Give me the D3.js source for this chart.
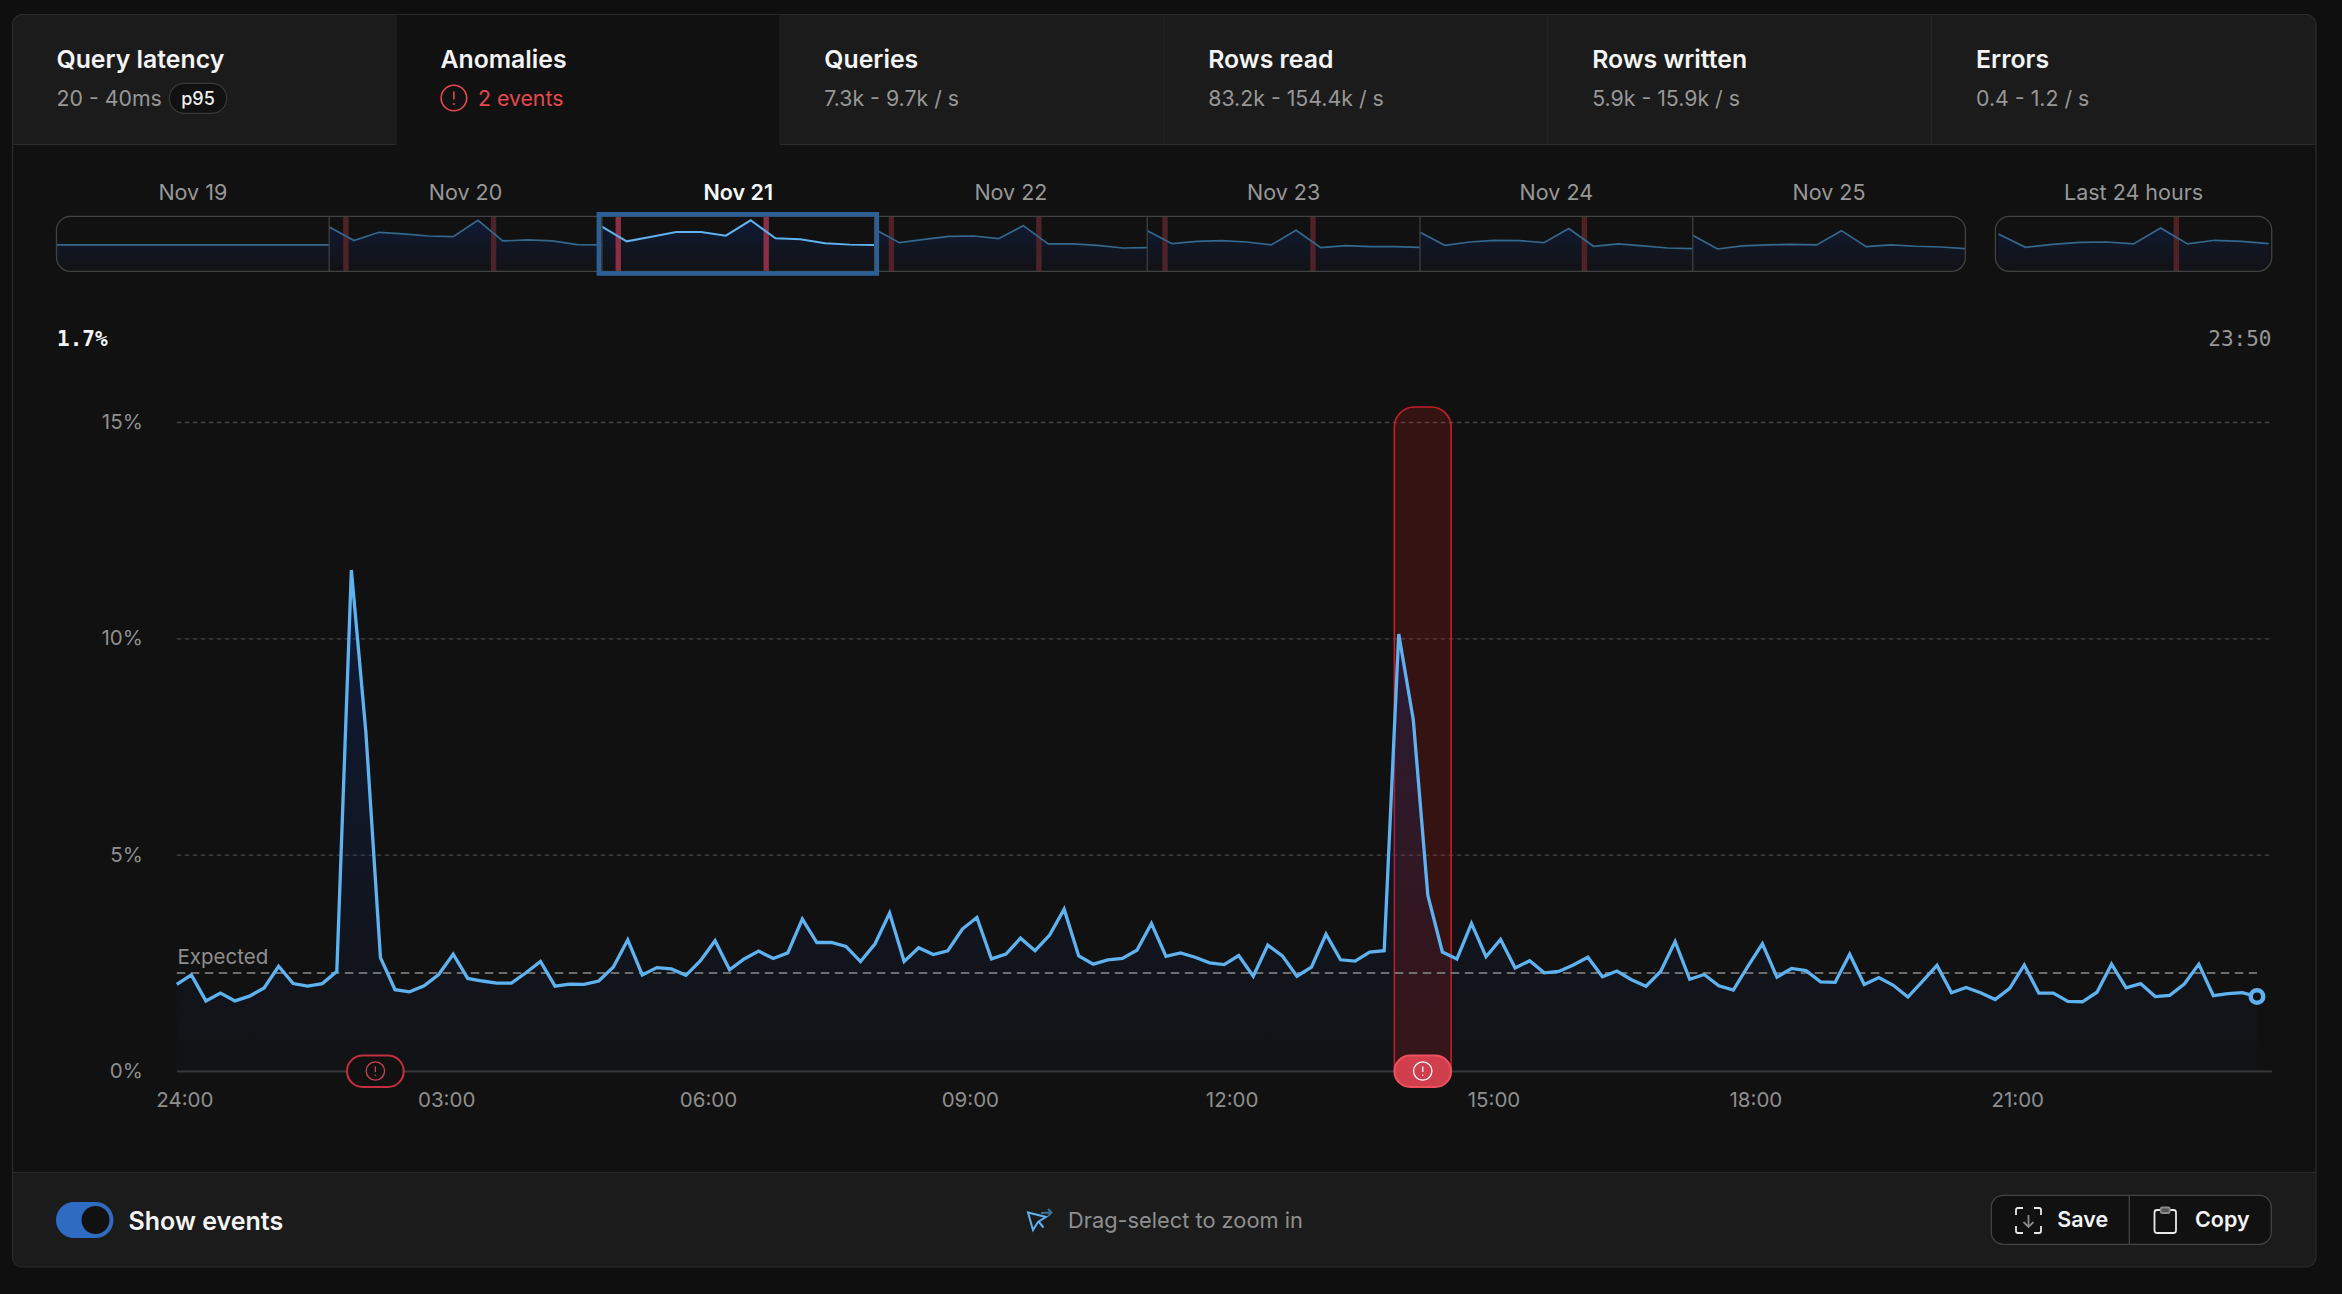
<!DOCTYPE html>
<html lang="en">
<head>
<meta charset="UTF-8">
<title>Anomalies</title>
<script src="https://cdn.jsdelivr.net/npm/d3@7"></script>
<style>
    html, body { margin: 0; padding: 0; background: #0f0f0f; }
    svg { display: block; font-family: Inter, "Noto Sans", sans-serif; }
    .mono { font-family: "DejaVu Sans Mono", monospace; }
</style>
</head>
<body>
<svg id="chart" width="2342" height="1294"></svg>
<script>
// tabs across the top
const tabTitles = ['Query latency', 'Anomalies', 'Queries', 'Rows read', 'Rows written', 'Errors'];
const tabRanges = ['20 - 40ms', '2 events', '7.3k - 9.7k / s', '83.2k - 154.4k / s', '5.9k - 15.9k / s', '0.4 - 1.2 / s'];

// overview strip, height of the line as a share of the strip
const dayLabels = ['Nov 19', 'Nov 20', 'Nov 21', 'Nov 22', 'Nov 23', 'Nov 24', 'Nov 25'];
const dayValues = [
    [.48, .48, .48, .48, .48, .48, .48, .48, .48, .48, .48, .48],
    [.806, .558, .709, .679, .642, .63, .927, .552, .57, .552, .485, .479],
    [.812, .545, .63, .715, .715, .648, .927, .6, .582, .509, .485, .479],
    [.764, .521, .582, .636, .642, .594, .83, .497, .497, .473, .424, .43],
    [.739, .503, .545, .558, .533, .479, .745, .43, .467, .448, .448, .436],
    [.709, .473, .533, .564, .558, .521, .776, .455, .497, .461, .424, .412],
    [.655, .406, .461, .479, .491, .479, .739, .448, .479, .455, .442, .412]
];
const dayEvents = [[], [1.47, 14.47], [1.44, 14.46], [1.48, 14.46], [1.56, 14.58], [14.47], []];
const selectedDay = 2;
const lastLabel = 'Last 24 hours';
const lastValues = [.679, .436, .491, .527, .533, .497, .788, .497, .564, .545, .503];
const lastEvents = [15.8];

// main chart, error rate % every 10 minutes
const latency = [
    2.0, 2.22, 1.62, 1.8, 1.62, 1.73, 1.92, 2.42, 2.02, 1.96, 2.02, 2.3,
    11.58, 7.82, 2.62, 1.88, 1.83, 1.97, 2.23, 2.7, 2.14, 2.08, 2.03, 2.03,
    2.27, 2.53, 1.96, 2.01, 2.0, 2.08, 2.4, 3.03, 2.22, 2.39, 2.36, 2.21,
    2.55, 3.01, 2.34, 2.59, 2.77, 2.6, 2.73, 3.51, 2.97, 2.97, 2.88, 2.53,
    2.94, 3.65, 2.53, 2.85, 2.69, 2.78, 3.28, 3.55, 2.59, 2.7, 3.07, 2.78,
    3.14, 3.74, 2.66, 2.47, 2.57, 2.6, 2.79, 3.41, 2.65, 2.73, 2.63, 2.5,
    2.46, 2.67, 2.19, 2.91, 2.66, 2.19, 2.4, 3.16, 2.57, 2.54, 2.75, 2.78,
    10.1, 8.12, 4.06, 2.75, 2.59, 3.41, 2.64, 3.04, 2.38, 2.55, 2.27, 2.3,
    2.45, 2.63, 2.18, 2.31, 2.11, 1.96, 2.3, 2.99, 2.12, 2.23, 1.97, 1.87,
    2.42, 2.94, 2.17, 2.37, 2.32, 2.06, 2.05, 2.7, 2.0, 2.16, 1.98, 1.71,
    2.07, 2.44, 1.81, 1.93, 1.81, 1.65, 1.91, 2.45, 1.8, 1.8, 1.61, 1.6,
    1.82, 2.47, 1.92, 2.02, 1.72, 1.75, 2.01, 2.47, 1.74, 1.79, 1.81, 1.72
];
const expected = 2.265;
const yTicks = [0, 5, 10, 15];
const xTickSlots = [0, 18, 36, 54, 72, 90, 108, 126];
const xTickLabels = ['24:00', '03:00', '06:00', '09:00', '12:00', '15:00', '18:00', '21:00'];
const events = [
    { start: 11.7, end: 15.6, active: false },
    { start: 83.7, end: 87.6, active: true }
];

const BLUE = '#5fb2f0';
const RED = '#e5484d';

const svg = d3.select('#chart');
const defs = svg.append('defs');

function vGradient(id, y1, y2, c1, c2) {
    const g = defs.append('linearGradient').attr('id', id)
        .attr('gradientUnits', 'userSpaceOnUse')
        .attr('x1', 0).attr('x2', 0).attr('y1', y1).attr('y2', y2);
    g.append('stop').attr('offset', 0).attr('stop-color', c1);
    g.append('stop').attr('offset', 1).attr('stop-color', c2);
}
vGradient('mainFill', 570, 1071, 'rgba(4,50,153,.3)', 'rgba(27,47,110,.05)');
vGradient('miniFill', 216, 271, 'rgba(4,50,153,.3)', 'rgba(27,47,110,.05)');

function alertIcon(parent, cx, cy, r, color, width) {
    const g = parent.append('g').attr('transform', `translate(${cx},${cy})`);
    g.append('circle').attr('r', r).attr('fill', 'none').attr('stroke', color).attr('stroke-width', width);
    g.append('line').attr('y1', -r * .5).attr('y2', r * .12)
        .attr('stroke', color).attr('stroke-width', width);
    g.append('circle').attr('cy', r * .47).attr('r', width * .6).attr('fill', color);
}

// panel
const panelX = 12.5, panelY = 14.5, panelW = 2303.5, panelH = 1252.5;
defs.append('clipPath').attr('id', 'panelClip').append('rect')
    .attr('x', panelX).attr('y', panelY).attr('width', panelW).attr('height', panelH).attr('rx', 10);
const panel = svg.append('g').attr('clip-path', 'url(#panelClip)');
panel.append('rect').attr('x', panelX).attr('y', panelY).attr('width', panelW).attr('height', panelH).attr('fill', '#111111');

// tabs
const tabW = panelW / 6, tabH = 130, activeTab = 1;
const tabs = panel.selectAll('g.tab').data(tabTitles).join('g').attr('class', 'tab')
    .attr('transform', (d, i) => `translate(${panelX + i * tabW},${panelY})`);
tabs.append('rect').attr('width', tabW).attr('height', tabH)
    .attr('fill', (d, i) => i === activeTab ? '#111111' : '#1b1b1b');
tabs.append('line').attr('x1', tabW).attr('x2', tabW).attr('y2', tabH).attr('stroke', '#2b2b2b').attr('stroke-width', 1.2);
tabs.filter((d, i) => i !== activeTab).append('line')
    .attr('y1', tabH).attr('y2', tabH).attr('x2', tabW).attr('stroke', '#2b2b2b').attr('stroke-width', 1.2);
tabs.append('text').attr('x', 44).attr('y', 53.5)
    .attr('fill', '#f4f4f4').attr('font-size', 24.8).attr('font-weight', 600).text(d => d);
tabs.append('text').attr('y', 91)
    .attr('x', (d, i) => i === activeTab ? 81.5 : 44)
    .attr('fill', (d, i) => i === activeTab ? RED : '#979797')
    .attr('font-size', 21.3).text((d, i) => tabRanges[i]);

// p95 badge and alert icon in the tabs
const firstTab = tabs.filter((d, i) => i === 0);
firstTab.append('rect').attr('x', 156.8).attr('y', 68.8).attr('width', 57.4).attr('height', 30).attr('rx', 15)
    .attr('fill', '#111111').attr('stroke', '#3a3a3a').attr('stroke-width', 1.2);
firstTab.append('text').attr('x', 185.5).attr('y', 90).attr('text-anchor', 'middle')
    .attr('fill', '#eeeeee').attr('font-size', 18).attr('font-weight', 500).text('p95');
alertIcon(panel, panelX + tabW + 57.5, 98, 12.8, RED, 1.6);

// overview strip
const stripTop = 216.3, stripBottom = 271.3, stripLeft = 56.5, dayW = 272.7;
const miniY = d3.scaleLinear().domain([0, 1]).range([stripBottom, stripTop]);

function drawMini(parent, x0, w, values, evts, selected) {
    const x = d3.scaleLinear().domain([0, values.length - 1]).range([x0, x0 + w]);
    const hours = d3.scaleLinear().domain([0, 24]).range([x0, x0 + w]);
    const area = d3.area().x((d, i) => x(i)).y0(stripBottom).y1(d => miniY(d));
    const line = d3.line().x((d, i) => x(i)).y(d => miniY(d));
    parent.append('path').datum(values).attr('d', area).attr('fill', 'url(#miniFill)');
    parent.selectAll(null).data(evts).join('rect')
        .attr('x', d => hours(d) - 2.7).attr('y', stripTop).attr('width', 5.4).attr('height', stripBottom - stripTop)
        .attr('fill', selected ? '#8a2f45' : '#4f2228');
    parent.append('path').datum(values).attr('d', line).attr('fill', 'none')
        .attr('stroke', selected ? BLUE : '#33688f').attr('stroke-width', selected ? 2 : 1.7);
}

defs.append('clipPath').attr('id', 'stripClip').append('rect')
    .attr('x', stripLeft).attr('y', stripTop).attr('width', dayW * 7).attr('height', stripBottom - stripTop).attr('rx', 14);
const strip = svg.append('g').attr('clip-path', 'url(#stripClip)');
dayValues.forEach((values, i) => {
    drawMini(strip, stripLeft + i * dayW, dayW, values, dayEvents[i], i === selectedDay);
});
svg.selectAll('line.divider').data(d3.range(1, 7)).join('line').attr('class', 'divider')
    .attr('x1', d => stripLeft + d * dayW).attr('x2', d => stripLeft + d * dayW)
    .attr('y1', stripTop).attr('y2', stripBottom).attr('stroke', '#3f3f3f').attr('stroke-width', 1.3);
svg.append('rect').attr('x', stripLeft).attr('y', stripTop).attr('width', dayW * 7).attr('height', stripBottom - stripTop)
    .attr('rx', 14).attr('fill', 'none').attr('stroke', '#424242').attr('stroke-width', 1.3);
svg.append('rect').attr('x', stripLeft + selectedDay * dayW - 3).attr('y', 214.3)
    .attr('width', dayW + 5.2).attr('height', 59.2)
    .attr('fill', 'none').attr('stroke', '#2b5f96').attr('stroke-width', 4.6);

svg.selectAll('text.day').data(dayLabels).join('text').attr('class', 'day')
    .attr('x', (d, i) => stripLeft + (i + .5) * dayW).attr('y', 200).attr('text-anchor', 'middle')
    .attr('font-size', 21.5)
    .attr('font-weight', (d, i) => i === selectedDay ? 600 : 400)
    .attr('fill', (d, i) => i === selectedDay ? '#f7f7f7' : '#979797')
    .text(d => d);

// last 24 hours
const lastX = 1995.4, lastW = 276.3;
defs.append('clipPath').attr('id', 'lastClip').append('rect')
    .attr('x', lastX).attr('y', stripTop).attr('width', lastW).attr('height', stripBottom - stripTop).attr('rx', 14);
drawMini(svg.append('g').attr('clip-path', 'url(#lastClip)'), lastX + 3, lastW - 6, lastValues, lastEvents, false);
svg.append('rect').attr('x', lastX).attr('y', stripTop).attr('width', lastW).attr('height', stripBottom - stripTop)
    .attr('rx', 14).attr('fill', 'none').attr('stroke', '#424242').attr('stroke-width', 1.3);
svg.append('text').attr('x', lastX + lastW / 2).attr('y', 200).attr('text-anchor', 'middle')
    .attr('font-size', 21.5).attr('fill', '#979797').text(lastLabel);

// readouts
svg.append('text').attr('class', 'mono').attr('x', 57).attr('y', 346)
    .attr('font-size', 21).attr('font-weight', 700).attr('fill', '#f4f4f4').text('1.7%');
svg.append('text').attr('class', 'mono').attr('x', 2271.5).attr('y', 346).attr('text-anchor', 'end')
    .attr('font-size', 21).attr('fill', '#979797').text('23:50');

// main chart
const x = d3.scaleLinear().domain([0, latency.length - 1]).range([176.8, 2257]);
const y = d3.scaleLinear().domain([0, 15]).range([1071, 422]);
const plotRight = 2272, plotLeft = 176.8;

const yAxis = svg.append('g').attr('transform', `translate(${plotLeft},0)`)
    .call(d3.axisLeft(y).tickValues(yTicks).tickFormat(d => d + '%')
        .tickSize(-(plotRight - plotLeft)).tickPadding(34));
yAxis.select('.domain').remove();
yAxis.selectAll('.tick line')
    .attr('stroke', d => d === 0 ? '#383838' : '#474747')
    .attr('stroke-width', d => d === 0 ? 2 : 1.3)
    .attr('stroke-dasharray', d => d === 0 ? null : '4.5 3.5');
yAxis.selectAll('.tick text').attr('fill', '#8e8e8e').attr('font-size', 20.5).attr('font-family', 'Inter');

const xAxis = svg.append('g').attr('transform', 'translate(0,1071)')
    .call(d3.axisBottom(x).tickValues(xTickSlots).tickFormat((d, i) => xTickLabels[i]).tickSize(0).tickPadding(21.5));
xAxis.select('.domain').remove();
xAxis.selectAll('.tick text').attr('dx', 7.5).attr('fill', '#8e8e8e').attr('font-size', 20.5).attr('font-family', 'Inter');

// event band behind the line
const activeEvent = events.filter(d => d.active);
svg.selectAll('rect.band').data(activeEvent).join('rect').attr('class', 'band')
    .attr('x', d => x(d.start)).attr('width', d => x(d.end) - x(d.start))
    .attr('y', 407).attr('height', 680).attr('rx', 20)
    .attr('fill', 'rgba(220,30,30,.185)').attr('stroke', '#c41f28').attr('stroke-width', 1.6);

const mainArea = d3.area().x((d, i) => x(i)).y0(y(0)).y1(d => y(d));
const mainLine = d3.line().x((d, i) => x(i)).y(d => y(d));
svg.append('path').datum(latency).attr('d', mainArea).attr('fill', 'url(#mainFill)');

svg.append('line').attr('x1', x(0)).attr('x2', x(latency.length - 1))
    .attr('y1', y(expected)).attr('y2', y(expected))
    .attr('stroke', '#8a8a8a').attr('stroke-width', 1.6).attr('stroke-dasharray', '8.5 5.5');
svg.append('text').attr('x', 177.5).attr('y', 963.5).attr('font-size', 20.5).attr('fill', '#8e8e8e').text('Expected');

svg.append('path').datum(latency).attr('d', mainLine).attr('fill', 'none')
    .attr('stroke', BLUE).attr('stroke-width', 3.3).attr('stroke-linejoin', 'miter');
svg.append('circle').attr('cx', x(latency.length - 1)).attr('cy', y(latency[latency.length - 1])).attr('r', 6.25)
    .attr('fill', '#111111').attr('stroke', BLUE).attr('stroke-width', 4.5);

// event pills on the baseline
events.forEach(d => {
    svg.append('rect').attr('x', x(d.start)).attr('width', x(d.end) - x(d.start))
        .attr('y', 1055.5).attr('height', 31.5).attr('rx', 15.75)
        .attr('fill', d.active ? '#d13f4d' : '#111111')
        .attr('stroke', d.active ? '#ee5060' : '#c4303f').attr('stroke-width', 2);
    alertIcon(svg, (x(d.start) + x(d.end)) / 2, 1071, 9.2, d.active ? '#ffffff' : '#d14050', 1.3);
});

// footer
panel.append('rect').attr('x', panelX).attr('y', 1172.5).attr('width', panelW).attr('height', 95).attr('fill', '#1b1b1b');
panel.append('line').attr('x1', panelX).attr('x2', panelX + panelW).attr('y1', 1172.5).attr('y2', 1172.5)
    .attr('stroke', '#2b2b2b').attr('stroke-width', 1.2);
svg.append('rect').attr('x', panelX).attr('y', panelY).attr('width', panelW).attr('height', panelH).attr('rx', 10)
    .attr('fill', 'none').attr('stroke', '#2b2b2b').attr('stroke-width', 1.2);

svg.append('rect').attr('x', 56).attr('y', 1202).attr('width', 57.5).attr('height', 36).attr('rx', 18).attr('fill', '#2f6bc0');
svg.append('circle').attr('cx', 95.5).attr('cy', 1220).attr('r', 14).attr('fill', '#111111');
svg.append('text').attr('x', 128.5).attr('y', 1229.5).attr('font-size', 25).attr('font-weight', 600).attr('fill', '#f4f4f4').text('Show events');

// drag hint
const hint = svg.append('g').attr('transform', 'translate(1015,1195)').attr('fill', 'none').attr('stroke-width', 2);
hint.append('path').attr('stroke', BLUE).attr('d', 'M13 17.5 L31 22 L23 27 L18 35 Z M24 27 L28.5 32.5');
hint.append('path').attr('stroke', '#3f6f92').attr('d', 'M26 18 L36 17.5 M33 14 L36.5 17.5 L33 21');
svg.append('text').attr('x', 1068).attr('y', 1228).attr('font-size', 21.8).attr('fill', '#8f8f8f').text('Drag-select to zoom in');

// save / copy buttons
svg.append('rect').attr('x', 1991.3).attr('y', 1195.3).attr('width', 280).attr('height', 49).attr('rx', 12)
    .attr('fill', '#111111').attr('stroke', '#434343').attr('stroke-width', 1.3);
svg.append('line').attr('x1', 2129.3).attr('x2', 2129.3).attr('y1', 1195.3).attr('y2', 1244.3).attr('stroke', '#434343').attr('stroke-width', 1.3);
const saveIcon = svg.append('g').attr('transform', 'translate(2016,1208)').attr('fill', 'none').attr('stroke-width', 1.8);
saveIcon.append('path').attr('stroke', '#e8e8e8')
    .attr('d', 'M0 7 V2 Q0 0 2 0 H7 M18 0 H23 Q25 0 25 2 V7 M25 18 V23 Q25 25 23 25 H18 M7 25 H2 Q0 25 0 23 V18');
saveIcon.append('path').attr('stroke', '#8a8a8a').attr('d', 'M12.5 7 V19 M7.5 14 L12.5 19 L17.5 14');
const copyIcon = svg.append('g').attr('transform', 'translate(2154.5,1208)').attr('fill', 'none').attr('stroke-width', 1.8);
copyIcon.append('rect').attr('y', 2).attr('width', 21.5).attr('height', 23).attr('rx', 2.5).attr('stroke', '#e8e8e8');
copyIcon.append('rect').attr('x', 6.2).attr('y', -.5).attr('width', 9).attr('height', 5.5).attr('rx', 1.5).attr('fill', '#555').attr('stroke', '#8a8a8a');
svg.append('text').attr('x', 2057.3).attr('y', 1227).attr('font-size', 21.5).attr('font-weight', 600).attr('fill', '#f4f4f4').text('Save');
svg.append('text').attr('x', 2195).attr('y', 1227).attr('font-size', 21.5).attr('font-weight', 600).attr('fill', '#f4f4f4').text('Copy');
</script>
</body>
</html>
